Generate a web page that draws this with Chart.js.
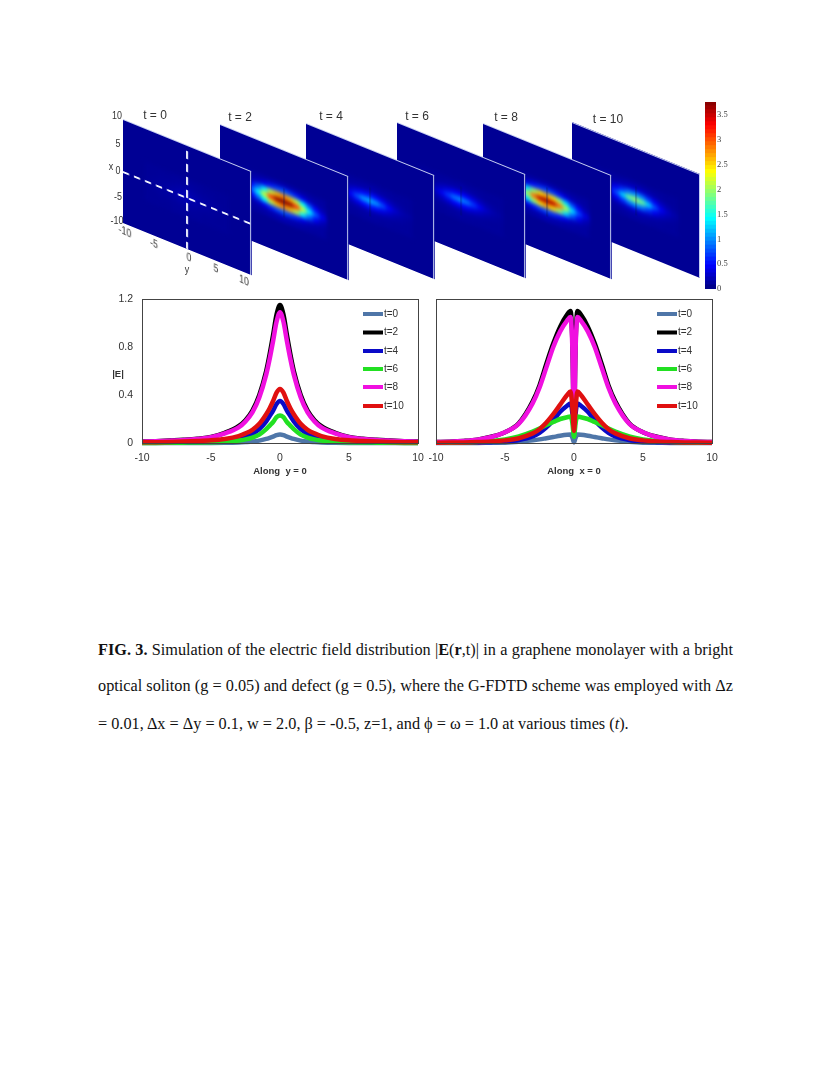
<!DOCTYPE html>
<html><head><meta charset="utf-8">
<script src="https://cdn.jsdelivr.net/npm/chart.js@4/dist/chart.umd.min.js"></script>
<style>
html,body{margin:0;padding:0;background:#fff;width:830px;height:1075px;overflow:hidden}
#page{position:relative;width:830px;height:1075px}
.abs{position:absolute;white-space:nowrap}
.panel{position:absolute;width:128px;height:104px;background:#000094;overflow:hidden;transform-origin:0 0;box-sizing:border-box;border-top:1px solid #c4ccf0;border-right:1.4px solid #c4ccf0}
.panel canvas{position:absolute;left:0;top:0}
.heat{filter:blur(2.2px)}
.lab{font-family:"Liberation Sans",sans-serif;font-size:10.5px;color:#333;transform:translate(-50%,-50%) scaleX(.85);filter:blur(.3px)}
.tt{font-family:"Liberation Sans",Arial,sans-serif;font-size:12px;color:#333;transform:translate(-50%,-50%);filter:blur(.3px)}
.cap{font-family:"Liberation Serif","Times New Roman",serif;font-size:16.25px;color:#111;left:98px;width:635px;line-height:18px}
.just{white-space:normal;text-align:justify;text-align-last:justify}
.line{position:absolute;filter:blur(.5px)}
</style></head>
<body><div id="page">
<div class="abs tt" style="left:155px;top:115px">t = 0</div>
<div class="abs tt" style="left:240px;top:117px">t = 2</div>
<div class="abs tt" style="left:331px;top:116px">t = 4</div>
<div class="abs tt" style="left:417px;top:116px">t = 6</div>
<div class="abs tt" style="left:506px;top:117px">t = 8</div>
<div class="abs tt" style="left:608px;top:119px">t = 10</div>
<div class="abs tt" style="left:118px;top:373px;font-size:9.5px;font-weight:bold">|E|</div>
<div class="abs cap just" style="top:641px"><b>FIG. 3.</b> Simulation of the electric field distribution |<b>E</b>(<b>r</b>,t)| in a graphene monolayer with a bright</div>
<div class="abs cap just" style="top:677px">optical soliton (g = 0.05) and defect (g = 0.5), where the G-FDTD scheme was employed with Δz</div>
<div class="abs cap" style="top:715px">= 0.01, Δx = Δy = 0.1, w = 2.0, β = -0.5, z=1, and ϕ = ω = 1.0 at various times (<i>t</i>).</div>
</div>
<script>
// ---------- Line chart data ----------
const seriesNames = ['t=0','t=2','t=4','t=6','t=8','t=10'];
const seriesColors = ['#4f76a8','#000000','#0a0ac8','#22e022','#f010e0','#e01010'];

const xAlongY = [-10,-9,-8,-7,-6,-5,-4,-3,-2.5,-2,-1.5,-1,-0.75,-0.5,-0.25,0,0.25,0.5,0.75,1,1.5,2,2.5,3,4,5,6,7,8,9,10];
const leftT0  = [0,0,0,0,.001,.001,.002,.005,.008,.012,.02,.034,.043,.053,.065,.07,.065,.053,.043,.034,.02,.012,.008,.005,.002,.001,.001,0,0,0,0];
const leftT2  = [.012,.015,.02,.027,.036,.05,.085,.14,.19,.27,.40,.60,.74,.90,1.07,1.15,1.07,.90,.74,.60,.40,.27,.19,.14,.085,.05,.036,.027,.02,.015,.012];
const leftT4  = [.002,.003,.004,.006,.008,.012,.02,.036,.05,.075,.115,.18,.225,.27,.325,.35,.325,.27,.225,.18,.115,.075,.05,.036,.02,.012,.008,.006,.004,.003,.002];
const leftT6  = [.001,.001,.002,.003,.004,.006,.01,.02,.03,.045,.07,.115,.145,.175,.215,.23,.215,.175,.145,.115,.07,.045,.03,.02,.01,.006,.004,.003,.002,.001,.001];
const leftT8  = [.011,.014,.019,.025,.034,.048,.08,.13,.18,.255,.38,.57,.70,.85,1.01,1.09,1.01,.85,.70,.57,.38,.255,.18,.13,.08,.048,.034,.025,.019,.014,.011];
const leftT10 = [.006,.007,.009,.012,.016,.022,.034,.058,.08,.11,.16,.24,.29,.35,.42,.45,.42,.35,.29,.24,.16,.11,.08,.058,.034,.022,.016,.012,.009,.007,.006];

const xAlongX = [-10,-9,-8,-7,-6,-5,-4,-3,-2.5,-2,-1.5,-1,-0.5,-0.25,-0.12,0,0.12,0.25,0.5,1,1.5,2,2.5,3,4,5,6,7,8,9,10];
const rightT0  = [0,0,.001,.001,.002,.003,.01,.022,.03,.04,.05,.06,.068,.07,.045,.005,.045,.07,.068,.06,.05,.04,.03,.022,.01,.003,.002,.001,.001,0,0];
const rightT2  = [.008,.011,.017,.028,.052,.09,.165,.345,.48,.66,.83,.97,1.07,1.10,.85,.15,.85,1.10,1.07,.97,.83,.66,.48,.345,.165,.09,.052,.028,.017,.011,.008];
const rightT4  = [.002,.002,.003,.005,.007,.012,.025,.055,.085,.13,.19,.26,.31,.33,.25,.08,.25,.33,.31,.26,.19,.13,.085,.055,.025,.012,.007,.005,.003,.002,.002];
const rightT6  = [.002,.003,.005,.009,.016,.03,.055,.095,.12,.15,.175,.20,.215,.22,.17,.05,.17,.22,.215,.20,.175,.15,.12,.095,.055,.03,.016,.009,.005,.003,.002];
const rightT8  = [.008,.011,.017,.028,.05,.09,.16,.33,.46,.63,.80,.93,1.02,1.05,.80,.15,.80,1.05,1.02,.93,.80,.63,.46,.33,.16,.09,.05,.028,.017,.011,.008];
const rightT10 = [.003,.004,.005,.008,.013,.022,.04,.08,.115,.17,.24,.32,.40,.43,.30,.10,.30,.43,.40,.32,.24,.17,.115,.08,.04,.022,.013,.008,.005,.004,.003];

const leftValues = [leftT0,leftT2,leftT4,leftT6,leftT8,leftT10];
const rightValues = [rightT0,rightT2,rightT4,rightT6,rightT8,rightT10];
const xTicks = [-10,-5,0,5,10];
const yTicks = [0,0.4,0.8,1.2];

// ---------- Heat map data: rows x = 3..-3, columns y = -6..6 ----------
const heatRowX = [3,2,1,0,-1,-2,-3];
const heatColY = [-6,-5,-4,-3,-2,-1,0,1,2,3,4,5,6];
const heatT0 = [
[.09,.09,.09,.09,.1,.1,.1,.1,.1,.09,.09,.09,.09],
[.09,.09,.1,.1,.11,.12,.12,.12,.11,.1,.1,.09,.09],
[.09,.1,.11,.12,.13,.15,.17,.15,.13,.12,.11,.1,.09],
[.1,.11,.12,.13,.16,.19,.22,.19,.16,.13,.12,.11,.1],
[.09,.1,.11,.12,.13,.15,.17,.15,.13,.12,.11,.1,.09],
[.09,.09,.1,.1,.11,.12,.12,.12,.11,.1,.1,.09,.09],
[.09,.09,.09,.09,.1,.1,.1,.1,.1,.09,.09,.09,.09]];
const heatT2 = [
[.12,.12,.13,.15,.17,.19,.21,.19,.17,.15,.13,.12,.12],
[.13,.18,.25,.4,.58,.72,.8,.72,.58,.4,.25,.18,.13],
[.22,.45,.85,1.4,2.1,2.6,2.8,2.6,2.1,1.4,.85,.45,.22],
[.4,.8,1.4,2.2,3.1,3.7,3.75,3.7,3.1,2.2,1.4,.8,.4],
[.22,.45,.85,1.4,2.1,2.6,2.8,2.6,2.1,1.4,.85,.45,.22],
[.13,.18,.25,.4,.58,.72,.8,.72,.58,.4,.25,.18,.13],
[.12,.12,.13,.15,.17,.19,.21,.19,.17,.15,.13,.12,.12]];
const heatT4 = [
[.1,.1,.1,.11,.11,.12,.12,.12,.11,.11,.1,.1,.1],
[.1,.11,.12,.14,.16,.18,.2,.18,.16,.14,.12,.11,.1],
[.11,.14,.18,.26,.38,.5,.56,.5,.38,.26,.18,.14,.11],
[.14,.18,.28,.45,.75,1.05,1.15,1.05,.75,.45,.28,.18,.14],
[.11,.14,.18,.26,.38,.5,.56,.5,.38,.26,.18,.14,.11],
[.1,.11,.12,.14,.16,.18,.2,.18,.16,.14,.12,.11,.1],
[.1,.1,.1,.11,.11,.12,.12,.12,.11,.11,.1,.1,.1]];
const heatT6 = [
[.1,.1,.1,.1,.11,.11,.12,.11,.11,.1,.1,.1,.1],
[.1,.1,.11,.13,.15,.17,.18,.17,.15,.13,.11,.1,.1],
[.11,.13,.17,.24,.34,.44,.48,.44,.34,.24,.17,.13,.11],
[.13,.17,.26,.42,.66,.9,1.0,.9,.66,.42,.26,.17,.13],
[.11,.13,.17,.24,.34,.44,.48,.44,.34,.24,.17,.13,.11],
[.1,.1,.11,.13,.15,.17,.18,.17,.15,.13,.11,.1,.1],
[.1,.1,.1,.1,.11,.11,.12,.11,.11,.1,.1,.1,.1]];
const heatT8 = [
[.12,.12,.13,.14,.16,.18,.2,.18,.16,.14,.13,.12,.12],
[.13,.17,.23,.37,.54,.67,.74,.67,.54,.37,.23,.17,.13],
[.2,.42,.78,1.3,1.95,2.45,2.65,2.45,1.95,1.3,.78,.42,.2],
[.36,.72,1.3,2.05,2.9,3.55,3.65,3.55,2.9,2.05,1.3,.72,.36],
[.2,.42,.78,1.3,1.95,2.45,2.65,2.45,1.95,1.3,.78,.42,.2],
[.13,.17,.23,.37,.54,.67,.74,.67,.54,.37,.23,.17,.13],
[.12,.12,.13,.14,.16,.18,.2,.18,.16,.14,.13,.12,.12]];
const heatT10 = [
[.1,.1,.11,.11,.12,.13,.13,.13,.12,.11,.11,.1,.1],
[.1,.11,.13,.17,.22,.27,.3,.27,.22,.17,.13,.11,.1],
[.12,.17,.26,.42,.66,.92,1.02,.92,.66,.42,.26,.17,.12],
[.16,.25,.42,.75,1.25,1.8,2.0,1.8,1.25,.75,.42,.25,.16],
[.12,.17,.26,.42,.66,.92,1.02,.92,.66,.42,.26,.17,.12],
[.1,.11,.13,.17,.22,.27,.3,.27,.22,.17,.13,.11,.1],
[.1,.1,.11,.11,.12,.13,.13,.13,.12,.11,.11,.1,.1]];
const heatPanels = [heatT0,heatT2,heatT4,heatT6,heatT8,heatT10];
const panelLeft = [123,220,306,397,483,572];
const panelTop  = [119,124,123,122,123,122];
const colorMax = 3.76;
const colorbarTicks = [0,0.5,1,1.5,2,2.5,3,3.5];

// Labels on the t = 0 panel
const xSideLabels = [['10',117,115],['5',118,143],['0',118,170],['-5',118,196],['-10',117,220]];
const ySideLabels = [['-10',125,231],['-5',154,243],['0',189,257],['5',216,268],['10',244,280]];

Chart.defaults.animation = false;
Chart.defaults.responsive = false;
Chart.defaults.devicePixelRatio = 1;
Chart.defaults.font.family = '"Liberation Sans",Arial,sans-serif';

const page = document.getElementById('page');
function addCanvas(parent,w,h,cls,style){
  const c = document.createElement('canvas');
  c.width = w; c.height = h;
  if(cls) c.className = cls;
  if(style) c.style.cssText = style;
  parent.appendChild(c);
  return c;
}
function clamp(v){return Math.max(0,Math.min(1,v));}
function jet(v){
  const t = v/colorMax;
  const r = clamp(1.5-Math.abs(4*t-3)), g = clamp(1.5-Math.abs(4*t-2)), b = clamp(1.5-Math.abs(4*t-1));
  return `rgb(${Math.round(r*255)},${Math.round(g*255)},${Math.round(b*255)})`;
}
function noPad(s){s.paddingLeft=0;s.paddingRight=0;s.paddingTop=0;s.paddingBottom=0;}

// ---------- Heat panels ----------
const hiddenAxis = {type:'linear',min:-10,max:10,display:false};
heatPanels.forEach((grid,p)=>{
  const w = document.createElement('div');
  w.className = 'panel';
  w.style.transform = `matrix(1,.406,0,1,${panelLeft[p]},${panelTop[p]})`;
  w.style.left = '0'; w.style.top = '0';
  w.style.zIndex = 10-p;
  page.appendChild(w);
  const pts=[],cols=[];
  grid.forEach((row,i)=>row.forEach((v,j)=>{pts.push({x:heatColY[j],y:heatRowX[i]});cols.push(jet(v));}));
  new Chart(addCanvas(w,128,104,'heat'),{type:'scatter',
    data:{datasets:[{data:pts,pointStyle:'rect',pointRadius:5.2,pointBorderWidth:0,pointBackgroundColor:cols,clip:false}]},
    options:{layout:{padding:0,autoPadding:false},plugins:{legend:{display:false},tooltip:{enabled:false}},scales:{x:hiddenAxis,y:hiddenAxis}}});
  const sets = p===0 ? [
    {data:[{x:-10,y:0},{x:10,y:0}],borderColor:'#f4f6ff',borderWidth:2,borderDash:[6,5]},
    {data:[{x:0,y:-10},{x:0,y:10}],borderColor:'#f4f6ff',borderWidth:2,borderDash:[8,5]}
  ] : [
    {data:[{x:0,y:-2.8},{x:0,y:2.8}],borderColor:'rgba(0,20,90,.55)',borderWidth:1}
  ];
  new Chart(addCanvas(w,128,104),{type:'scatter',
    data:{datasets:sets.map(s=>({...s,showLine:true,pointRadius:0}))},
    options:{layout:{padding:0,autoPadding:false},plugins:{legend:{display:false},tooltip:{enabled:false}},scales:{x:hiddenAxis,y:hiddenAxis}}});
});
function addLabel(t,x,y,skew){
  const d=document.createElement('div');
  d.className='abs lab'; d.textContent=t;
  d.style.left=x+'px'; d.style.top=y+'px'; d.style.zIndex=20;
  if(skew) d.style.transform='translate(-50%,-50%) scaleX(.85) skewY(22deg)';
  page.appendChild(d);
}
xSideLabels.forEach(a=>addLabel(a[0],a[1],a[2]));
ySideLabels.forEach(a=>addLabel(a[0],a[1],a[2],true));
addLabel('x',111,166); addLabel('y',187,269);

// ---------- Colour bar ----------
const barSteps=[]; for(let k=0;k<colorMax-1e-6;k+=0.08) barSteps.push(k);
new Chart(addCanvas(page,36,202,'line','left:700px;top:95px;z-index:20'),{type:'bar',
  data:{labels:['E'],datasets:barSteps.map(k=>({data:[[k,Math.min(k+0.085,colorMax)]],backgroundColor:jet(k+0.04),borderWidth:0,grouped:false,barPercentage:1,categoryPercentage:1}))},
  options:{layout:{padding:{left:5,top:7,bottom:8,right:0},autoPadding:false},
    plugins:{legend:{display:false},tooltip:{enabled:false}},
    scales:{x:{display:false},
      y:{position:'right',min:0,max:colorMax,afterFit:s=>{s.width=20;noPad(s);},
         afterBuildTicks:s=>{s.ticks=colorbarTicks.map(v=>({value:v}));},
         grid:{display:false,tickLength:0},border:{display:false},
         ticks:{padding:1,font:{size:8.5,family:'"Liberation Serif",serif'},color:'#444',autoSkip:false,callback:v=>String(v)}}}}});

// ---------- Line charts ----------
const framePlugin = {id:'frame',afterDraw(c,_,o){
  const a=c.chartArea,x=c.ctx;
  x.save();x.strokeStyle='#444';x.lineWidth=1;
  x.strokeRect(Math.round(a.left)+.5,Math.round(a.top)+.5,Math.round(a.width),Math.round(a.height));
  x.lineCap='butt';x.font='10px "Liberation Sans",Arial,sans-serif';x.textBaseline='middle';
  c.data.datasets.forEach((d,i)=>{
    const y=o.legendY[i];
    x.strokeStyle=d.borderColor;x.lineWidth=4;
    x.beginPath();x.moveTo(o.legendX,y);x.lineTo(o.legendX+20,y);x.stroke();
    x.fillStyle='#333';x.fillText(d.label,o.legendX+21,y);
  });
  x.restore();
}};
const legendRows=[24,42.5,61,79,97,116];
function lineChart(left,width,xs,values,title,padL,padR,showY,legendX){
  new Chart(addCanvas(page,width,190,'line',`left:${left}px;top:290px`),{type:'line',plugins:[framePlugin],
    data:{datasets:seriesNames.map((n,i)=>({label:n,data:xs.map((x,k)=>({x,y:values[i][k]})),borderColor:seriesColors[i],backgroundColor:seriesColors[i],borderWidth:4.5,borderJoinStyle:'round',pointRadius:0,cubicInterpolationMode:'monotone',clip:false,order:seriesNames.length-i}))},
    options:{layout:{padding:{top:9,right:padR,left:0,bottom:0},autoPadding:false},
      plugins:{legend:{display:false},tooltip:{enabled:false},frame:{legendX,legendY:legendRows}},
      scales:{
        x:{type:'linear',min:-10,max:10,afterFit:s=>{s.height=37;noPad(s);},afterBuildTicks:s=>{s.ticks=xTicks.map(v=>({value:v}));},
           grid:{display:false,tickLength:0},border:{display:false},
           ticks:{padding:9,maxRotation:0,font:{size:10.5},color:'#333',autoSkip:false},
           title:{display:true,text:title,font:{size:9.5,weight:'bold'},color:'#333',padding:{top:0,bottom:3}}},
        y:{min:0,max:1.2,afterFit:s=>{s.width=padL;noPad(s);},afterBuildTicks:s=>{s.ticks=yTicks.map(v=>({value:v}));},
           grid:{display:false,tickLength:0},border:{display:false},
           ticks:{display:showY,padding:9,font:{size:10.5},color:'#333',callback:v=>v===0?'0':v.toFixed(1)}}
      }}});
}
lineChart(100,325,xAlongY,leftValues,'Along  y = 0',42,7,true,263);
lineChart(425,300,xAlongX,rightValues,'Along  x = 0',11,13,false,232);
</script>
</body></html>
